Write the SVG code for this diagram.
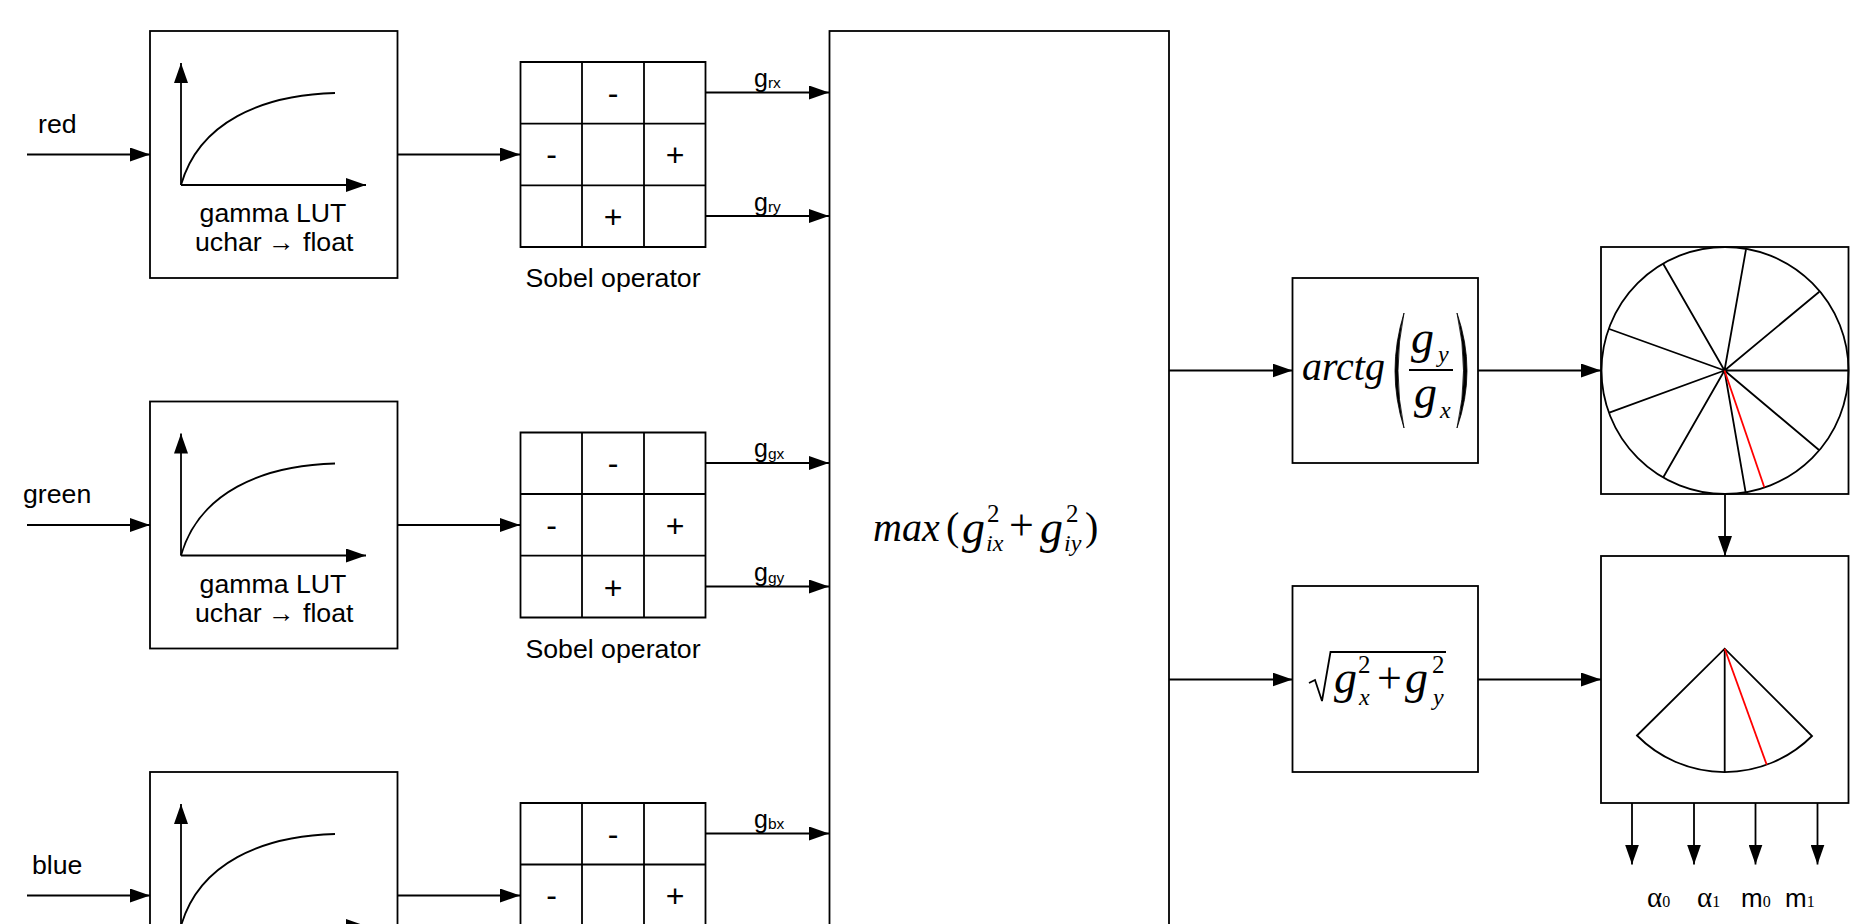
<svg xmlns="http://www.w3.org/2000/svg" width="1850" height="924" viewBox="0 0 1850 924">
<style>
.b{fill:none;stroke:#000;stroke-width:1.8}
.l{fill:none;stroke:#000;stroke-width:1.8}
.a{fill:none;stroke:#000;stroke-width:1.8;marker-end:url(#ah)}
.r{fill:none;stroke:#f00;stroke-width:1.8}
text{font-family:"Liberation Sans",Arial,sans-serif;fill:#000}
.t{font-size:26.7px}
.o{font-size:32px;text-anchor:middle}
.c{text-anchor:middle}
.g{font-size:25px}
.s{font-size:15.5px}
.m{font-family:"Liberation Serif","Times New Roman",serif;font-style:italic}
.n{font-family:"Liberation Serif","Times New Roman",serif;font-style:normal}
.p{fill:#000;stroke:#000;stroke-width:.8}
</style>
<defs>
<marker id="ah" markerUnits="userSpaceOnUse" markerWidth="20" markerHeight="14" refX="20" refY="7" orient="auto"><path d="M0 0L20 7L0 14Z" fill="#000"/></marker>
</defs>
<rect width="1850" height="924" fill="#fff"/>
<g id="connectors">
<path class="a" d="M27 154.500H150"/><path class="a" d="M397.500 154.500H520"/>
<path class="a" d="M705.500 92.500H829"/><path class="a" d="M705.500 216H829"/>
<path class="a" d="M27 525H150"/><path class="a" d="M397.500 525H520"/>
<path class="a" d="M705.500 463H829"/><path class="a" d="M705.500 586.500H829"/>
<path class="a" d="M27 895.500H150"/><path class="a" d="M397.500 895.500H520"/>
<path class="a" d="M705.500 833.500H829"/>
<path class="a" d="M1169 370.500H1292.500"/><path class="a" d="M1169 679.500H1292.500"/>
<path class="a" d="M1478 370.500H1601"/><path class="a" d="M1478 679.500H1601"/>
<path class="a" d="M1725 494V556"/>
<path class="a" d="M1632 803V864.500"/><path class="a" d="M1694 803V864.500"/><path class="a" d="M1755.500 803V864.500"/><path class="a" d="M1817.500 803V864.500"/>
</g>
<g id="label-red"><text class="t" x="38" y="133">red</text></g>
<g id="label-green"><text class="t" x="23" y="503">green</text></g>
<g id="label-blue"><text class="t" x="32" y="874">blue</text></g>
<g id="lut-red">
<rect class="b" x="150" y="31" width="247.500" height="247"/>
<path class="a" d="M181 185V63"/><path class="a" d="M181 185H366"/>
<path class="l" d="M181 185C199 122 262 95 335 93"/>
<text class="t c" x="273" y="222">gamma LUT</text>
<text class="t" y="251"><tspan x="195">uchar</tspan><tspan x="268">→</tspan><tspan x="303">float</tspan></text>
</g>
<g id="lut-green">
<rect class="b" x="150" y="401.500" width="247.500" height="247"/>
<path class="a" d="M181 555.500V433.500"/><path class="a" d="M181 555.500H366"/>
<path class="l" d="M181 555.500C199 492.500 262 465.500 335 463.500"/>
<text class="t c" x="273" y="592.500">gamma LUT</text>
<text class="t" y="621.500"><tspan x="195">uchar</tspan><tspan x="268">→</tspan><tspan x="303">float</tspan></text>
</g>
<g id="lut-blue">
<rect class="b" x="150" y="772" width="247.500" height="247"/>
<path class="a" d="M181 926V804"/><path class="a" d="M181 926H366"/>
<path class="l" d="M181 926C199 863 262 836 335 834"/>
</g>
<g id="sobel-red">
<path class="b" d="M520.500 62H705.500V247H520.500ZM582 62V247M644 62V247M520.500 123.700H705.500M520.500 185.300H705.500"/>
<text class="o" x="613" y="103.500">-</text><text class="o" x="551.700" y="165">-</text><text class="o" x="675" y="166">+</text><text class="o" x="613" y="228">+</text>
<text class="t c" x="613" y="287">Sobel operator</text>
<text class="g" x="754" y="86.500">g<tspan class="s" dy="1.500">rx</tspan></text>
<text class="g" x="754" y="210.500">g<tspan class="s" dy="1.500">ry</tspan></text>
</g>
<g id="sobel-green">
<path class="b" d="M520.500 432.500H705.500V617.500H520.500ZM582 432.500V617.500M644 432.500V617.500M520.500 494H705.500M520.500 555.700H705.500"/>
<text class="o" x="613" y="474">-</text><text class="o" x="551.700" y="535.500">-</text><text class="o" x="675" y="536.500">+</text><text class="o" x="613" y="598.500">+</text>
<text class="t c" x="613" y="657.500">Sobel operator</text>
<text class="g" x="754" y="457">g<tspan class="s" dy="1.500">gx</tspan></text>
<text class="g" x="754" y="581">g<tspan class="s" dy="1.500">gy</tspan></text>
</g>
<g id="sobel-blue">
<path class="b" d="M520.500 803H705.500V988H520.500ZM582 803V988M644 803V988M520.500 864.500H705.500"/>
<text class="o" x="613" y="844.500">-</text><text class="o" x="551.700" y="906">-</text><text class="o" x="675" y="907">+</text>
<text class="g" x="754" y="827.500">g<tspan class="s" dy="1.500">bx</tspan></text>
</g>
<g id="max">
<rect class="b" x="829.500" y="31" width="339.500" height="960"/>
<text class="m" font-size="40" x="873" y="541">max</text>
<text class="n" font-size="40" x="946" y="540">(</text>
<text class="m" font-size="46" x="962" y="543">g</text>
<text class="n" font-size="25" x="987" y="522">2</text>
<text class="m" font-size="24" x="986" y="551">ix</text>
<text class="n" font-size="44" x="1009" y="540">+</text>
<text class="m" font-size="46" x="1040" y="543">g</text>
<text class="n" font-size="25" x="1066" y="522">2</text>
<text class="m" font-size="24" x="1064" y="551">iy</text>
<text class="n" font-size="40" x="1085" y="540">)</text>
</g>
<g id="arctg">
<rect class="b" x="1292.500" y="278" width="185.500" height="185"/>
<text class="m" font-size="40" x="1302" y="380">arctg</text>
<path class="p" d="M1404 313Q1386 371 1404 428Q1392 371 1404 313Z"/>
<path class="p" d="M1457 313Q1477 371 1457 428Q1470 371 1457 313Z"/>
<text class="m" font-size="46" x="1411" y="353">g</text>
<text class="m" font-size="24" x="1438" y="362">y</text>
<path class="l" d="M1409 370H1453"/>
<text class="m" font-size="46" x="1414" y="408">g</text>
<text class="m" font-size="24" x="1440" y="418">x</text>
</g>
<g id="magnitude">
<rect class="b" x="1292.500" y="586" width="185.500" height="186"/>
<path class="l" d="M1309 683L1315 680L1322 701L1330.500 652H1446"/>
<text class="m" font-size="46" x="1334" y="693">g</text>
<text class="n" font-size="25" x="1358" y="673">2</text>
<text class="m" font-size="24" x="1359" y="705">x</text>
<text class="n" font-size="44" x="1377" y="693">+</text>
<text class="m" font-size="46" x="1405" y="693">g</text>
<text class="n" font-size="25" x="1432" y="673">2</text>
<text class="m" font-size="24" x="1433" y="705">y</text>
</g>
<g id="histogram-circle">
<rect class="b" x="1601" y="247" width="247.500" height="247"/>
<circle class="l" cx="1725" cy="370.500" r="123.500"/>
<path class="l" d="M1724.500 370.500L1746 249.300M1724.500 370.500L1819.300 291.700M1724.500 370.500H1848.300M1724.500 370.500L1819.300 450.300M1724.500 370.500L1745.700 492.700M1724.500 370.500L1663.300 477.300M1724.500 370.500L1609.300 412.700M1724.500 370.500L1609.300 329M1724.500 370.500L1663.300 264"/>
<path class="r" d="M1724.500 370.500L1764.300 487.300"/>
</g>
<g id="sector">
<rect class="b" x="1601" y="556" width="247.500" height="247"/>
<path class="l" d="M1637 735.500L1724.700 648.700L1812 736A123.500 123.500 0 0 1 1637 735.500ZM1724.700 648.700V772"/>
<path class="r" d="M1724.700 648.700L1766.700 764.700"/>
</g>
<g id="outputs">
<text class="n" font-size="29" x="1647" y="907">α<tspan font-size="16">0</tspan></text>
<text class="n" font-size="29" x="1697" y="907">α<tspan font-size="16">1</tspan></text>
<text font-size="26" x="1741" y="907">m<tspan class="n" font-size="16">0</tspan></text>
<text font-size="26" x="1785" y="907">m<tspan class="n" font-size="16">1</tspan></text>
</g>
</svg>
